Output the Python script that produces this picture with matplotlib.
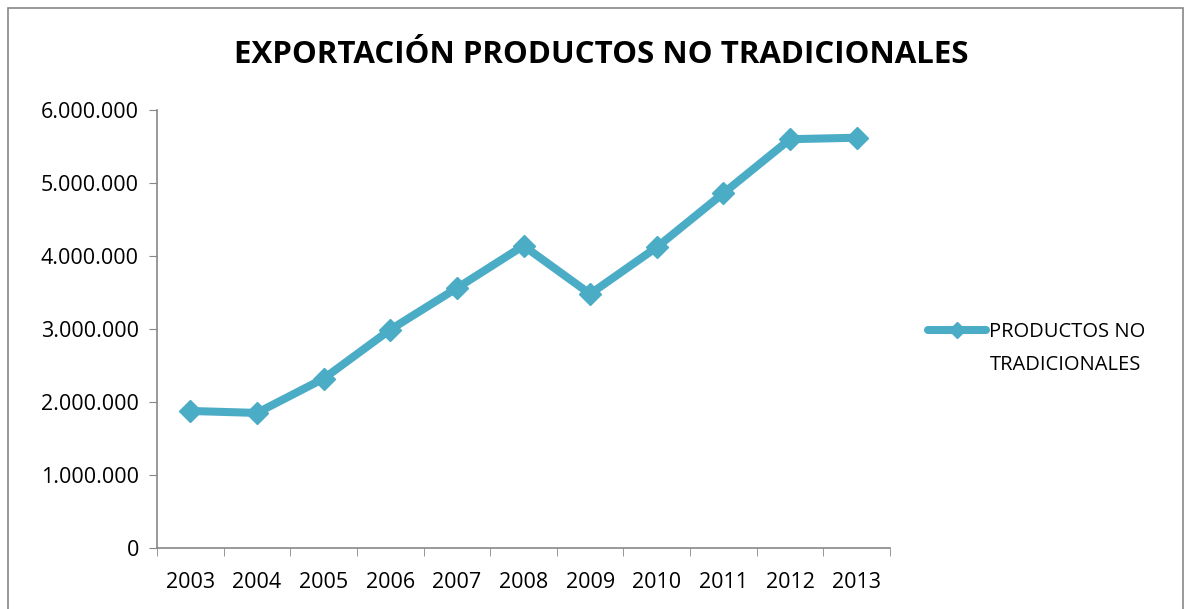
import matplotlib.pyplot as plt
from matplotlib.patches import Rectangle
from matplotlib.ticker import FuncFormatter

years = ["2003", "2004", "2005", "2006", "2007", "2008", "2009", "2010", "2011", "2012", "2013"]
exports = [1877000, 1850000, 2320000, 2990000, 3560000, 4140000, 3480000, 4120000, 4860000, 5600000, 5620000]
y_ticks = [0, 1000000, 2000000, 3000000, 4000000, 5000000, 6000000]

plt.rcParams["font.family"] = ["Open Sans", "DejaVu Sans"]

fig = plt.figure(figsize=(11.91, 6.09), dpi=100)
ax = fig.add_axes([0.1318, 0.1002, 0.6155, 0.7192])

positions = list(range(len(years)))
ax.plot(positions, exports, color="#4BACC6", linewidth=5.8, marker="D",
        markersize=11, markerfacecolor="#4BACC6", markeredgecolor="#4BACC6",
        solid_capstyle="round", label="PRODUCTOS NO")

ax.set_xlim(-0.5, len(years) - 0.5)
ax.set_ylim(0, 6000000)
ax.set_yticks(y_ticks)
ax.yaxis.set_major_formatter(FuncFormatter(lambda v, _: f"{int(v):,}".replace(",", ".")))
ax.set_xticks(positions)
ax.set_xticklabels(years)
ax.set_xticks([p - 0.5 for p in positions] + [len(years) - 0.5], minor=True)
ax.tick_params(axis="x", which="major", length=0, pad=17, labelsize=15.5)
ax.tick_params(axis="x", which="minor", length=6, color="#878787", direction="out")
ax.tick_params(axis="y", length=6, color="#878787", labelsize=15.5, pad=7)

for side in ["top", "right"]:
    ax.spines[side].set_visible(False)
for side in ["left", "bottom"]:
    ax.spines[side].set_color("#878787")
    ax.spines[side].set_linewidth(1.2)

fig.text(0.505, 0.91, "EXPORTACIÓN PRODUCTOS NO TRADICIONALES", ha="center", va="center",
         fontsize=22.5, fontweight="bold")

# legend: Excel puts the key next to the first line of the wrapped label
ax.legend(loc="center left", bbox_to_anchor=(0.779, 0.4548), bbox_transform=fig.transFigure,
          frameon=False, fontsize=14.5, handlelength=2.9, handletextpad=0.15,
          borderpad=0, borderaxespad=0, markerscale=0.75)
fig.text(0.8312, 0.4007, "TRADICIONALES", ha="left", va="center", fontsize=14.5)

# outer chart border
fig.patches.append(Rectangle((0.007, -0.01), 0.986, 0.997, transform=fig.transFigure,
                             fill=False, edgecolor="#878787", linewidth=1.2))

fig.savefig("out.png", dpi=100)
